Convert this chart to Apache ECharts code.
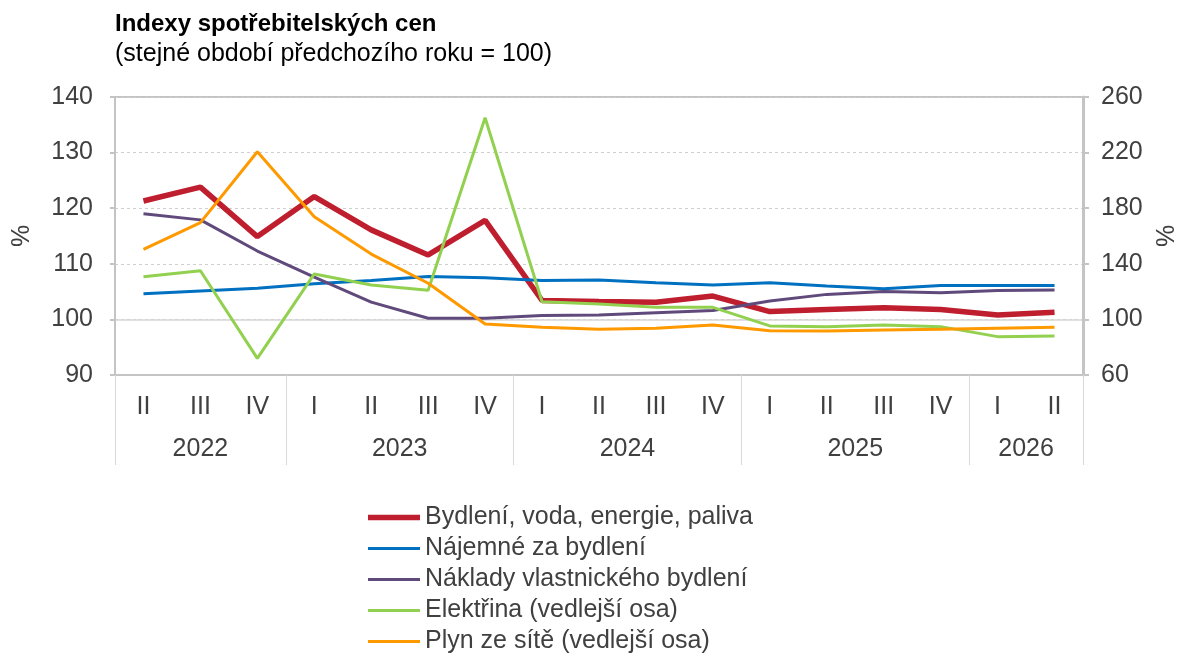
<!DOCTYPE html>
<html>
<head>
<meta charset="utf-8">
<script src="https://cdn.jsdelivr.net/npm/echarts@6/dist/echarts.min.js"></script>
<style>
  html, body { margin: 0; padding: 0; background: #fff; }
  #chart { width: 1180px; height: 653px; }
</style>
</head>
<body>
<div id="chart"></div>
<script>
// čtvrtletí a roky
var quarters = ['II', 'III', 'IV', 'I', 'II', 'III', 'IV', 'I', 'II', 'III', 'IV', 'I', 'II', 'III', 'IV', 'I', 'II'];
var years = ['2022', '2023', '2024', '2025', '2026'];
var yearQuarterCounts = [3, 4, 4, 4, 2];

// hlavní osa (%)
var bydleni = [121.3, 123.8, 114.9, 122.1, 116.1, 111.6, 117.8, 103.4, 103.2, 103.1, 104.2, 101.4, 101.8, 102.1, 101.8, 100.8, 101.3];
var najemne = [104.6, 105.1, 105.6, 106.4, 107.0, 107.7, 107.5, 107.0, 107.1, 106.6, 106.2, 106.6, 106.0, 105.5, 106.1, 106.1, 106.1];
var naklady = [119.0, 117.9, 112.3, 107.6, 103.1, 100.2, 100.2, 100.7, 100.8, 101.2, 101.6, 103.3, 104.5, 105.0, 104.8, 105.2, 105.3];
// vedlejší osa (%)
var elektrina = [130.7, 135.0, 72.0, 132.7, 124.7, 121.0, 245.1, 112.7, 111.1, 108.7, 108.7, 95.3, 94.8, 96.0, 94.8, 87.6, 88.1];
var plyn = [150.4, 169.6, 220.6, 173.9, 147.0, 126.0, 96.7, 94.3, 92.9, 93.6, 96.0, 91.9, 91.7, 92.4, 92.9, 93.6, 94.3];

var rightTicks = [60, 100, 140, 180, 220, 260];

// hranice a středy roků na ose čtvrtletí
var yearBounds = [0];
var yearCenters = [];
yearQuarterCounts.forEach(function (n) {
    var start = yearBounds[yearBounds.length - 1];
    yearCenters.push(start + n / 2);
    yearBounds.push(start + n);
});

var FONT = 'Liberation Sans, Arial, sans-serif';
var textColor = '#404040';
var axisGray = '#c4c4c4';

// ikony legendy – čára dané tloušťky
var thickLine = 'path://M0,0H52V5.5H0Z';
var thinLine = 'path://M0,0H52V3H0Z';

var chart = echarts.init(document.getElementById('chart'));

var option = {
    animation: false,
    textStyle: { fontFamily: FONT },
    title: [
        {
            text: 'Indexy spotřebitelských cen',
            left: 110,
            top: 7,
            textStyle: { fontFamily: FONT, fontSize: 24, fontWeight: 'bold', color: '#000' }
        },
        {
            text: '(stejné období předchozího roku = 100)',
            left: 110,
            top: 37,
            textStyle: { fontFamily: FONT, fontSize: 25, fontWeight: 'normal', color: '#000' }
        }
    ],
    legend: {
        orient: 'vertical',
        left: 368,
        top: 505,
        height: 170,
        padding: 0,
        itemWidth: 52,
        itemHeight: 14,
        itemGap: 6,
        textStyle: { fontFamily: FONT, fontSize: 25, color: textColor, lineHeight: 24 },
        data: [
            { name: 'Bydlení, voda, energie, paliva', icon: thickLine },
            { name: 'Nájemné za bydlení', icon: thinLine },
            { name: 'Náklady vlastnického bydlení', icon: thinLine },
            { name: 'Elektřina (vedlejší osa)', icon: thinLine },
            { name: 'Plyn ze sítě (vedlejší osa)', icon: thinLine }
        ]
    },
    grid: {
        left: 115,
        right: 97,
        top: 97,
        bottom: 278,
        outerBoundsMode: 'none',
        containLabel: false,
        show: true,
        borderColor: axisGray,
        borderWidth: 2
    },
    xAxis: [
        {
            type: 'category',
            data: quarters,
            boundaryGap: true,
            axisLine: { show: true, lineStyle: { color: axisGray, width: 2 } },
            axisTick: { show: false },
            axisLabel: { color: textColor, fontSize: 25, margin: 20, fontFamily: FONT }
        },
        {
            type: 'value',
            min: 0,
            max: quarters.length,
            position: 'bottom',
            axisLine: { show: false },
            splitLine: { show: false },
            axisTick: {
                show: true,
                customValues: yearBounds,
                length: 90,
                lineStyle: { color: '#d9d9d9', width: 1 }
            },
            axisLabel: {
                customValues: yearCenters,
                margin: 62,
                color: textColor,
                fontSize: 25,
                fontFamily: FONT,
                formatter: function (v) {
                    var i = yearCenters.indexOf(v);
                    return i >= 0 ? years[i] : '';
                }
            }
        }
    ],
    yAxis: [
        {
            type: 'value',
            min: 90,
            max: 140,
            interval: 10,
            name: '%',
            nameLocation: 'middle',
            nameRotate: 90,
            nameGap: 80,
            nameTextStyle: { color: textColor, fontSize: 25, fontFamily: FONT },
            axisLine: { show: true, lineStyle: { color: axisGray, width: 2 } },
            axisTick: { show: true, length: 5, lineStyle: { color: axisGray, width: 2 } },
            axisLabel: { color: textColor, fontSize: 25, margin: 22, fontFamily: FONT },
            splitLine: { show: true, lineStyle: { color: '#cfcfcf', type: [3, 3], width: 1 } }
        },
        {
            type: 'value',
            min: 60,
            max: 260,
            position: 'right',
            name: '%',
            nameLocation: 'middle',
            nameRotate: 90,
            nameGap: 72,
            nameTextStyle: { color: textColor, fontSize: 25, fontFamily: FONT },
            axisLine: { show: true, lineStyle: { color: axisGray, width: 3 } },
            axisTick: { show: true, length: 6, customValues: rightTicks, lineStyle: { color: axisGray, width: 2 } },
            axisLabel: { customValues: rightTicks, color: textColor, fontSize: 25, margin: 18, fontFamily: FONT },
            splitLine: { show: false }
        },
        {
            // plná čára na úrovni 100
            type: 'value',
            min: 90,
            max: 140,
            interval: 10,
            show: true,
            axisLine: { show: false },
            axisTick: { show: false },
            axisLabel: { show: false },
            splitLine: {
                show: true,
                lineStyle: {
                    color: ['rgba(0,0,0,0)', '#d6d6d6', 'rgba(0,0,0,0)', 'rgba(0,0,0,0)', 'rgba(0,0,0,0)', 'rgba(0,0,0,0)'],
                    width: 1.5
                }
            }
        }
    ],
    series: [
        {
            name: 'Bydlení, voda, energie, paliva',
            type: 'line',
            data: bydleni,
            yAxisIndex: 0,
            symbol: 'none',
            color: '#BE1E2D',
            lineStyle: { width: 5.5, color: '#BE1E2D' }
        },
        {
            name: 'Nájemné za bydlení',
            type: 'line',
            data: najemne,
            yAxisIndex: 0,
            symbol: 'none',
            color: '#0070C0',
            lineStyle: { width: 3, color: '#0070C0' }
        },
        {
            name: 'Náklady vlastnického bydlení',
            type: 'line',
            data: naklady,
            yAxisIndex: 0,
            symbol: 'none',
            color: '#604A7B',
            lineStyle: { width: 3, color: '#604A7B' }
        },
        {
            name: 'Elektřina (vedlejší osa)',
            type: 'line',
            data: elektrina,
            yAxisIndex: 1,
            symbol: 'none',
            color: '#92D050',
            lineStyle: { width: 3, color: '#92D050' }
        },
        {
            name: 'Plyn ze sítě (vedlejší osa)',
            type: 'line',
            data: plyn,
            yAxisIndex: 1,
            symbol: 'none',
            color: '#FF9900',
            lineStyle: { width: 3, color: '#FF9900' }
        }
    ]
};

chart.setOption(option);
</script>
</body>
</html>
